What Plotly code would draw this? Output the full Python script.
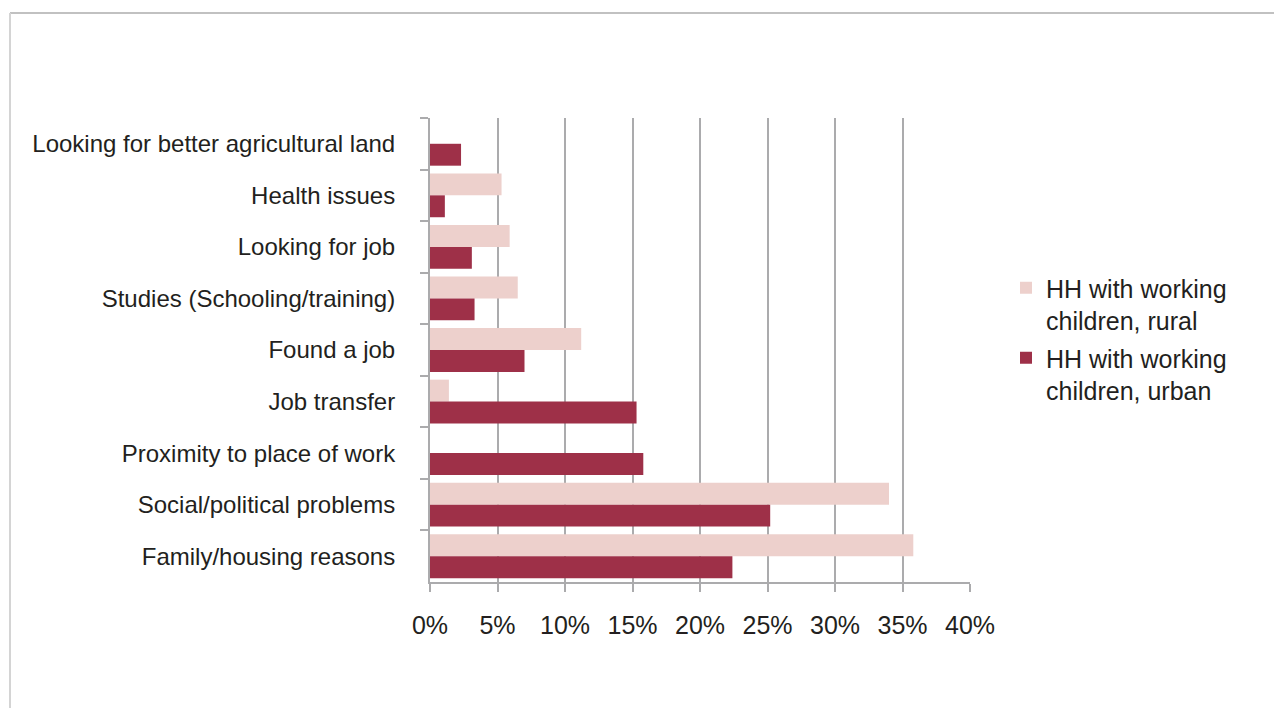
import plotly.graph_objects as go

categories = [
    "Looking for better agricultural land",
    "Health issues",
    "Looking for job",
    "Studies (Schooling/training)",
    "Found a job",
    "Job transfer",
    "Proximity to place of work",
    "Social/political problems",
    "Family/housing reasons",
]
rural = [0.0, 5.3, 5.9, 6.5, 11.2, 1.4, 0.0, 34.0, 35.8]
urban = [2.3, 1.1, 3.1, 3.3, 7.0, 15.3, 15.8, 25.2, 22.4]
series_names = ["HH with working<br>children, rural", "HH with working<br>children, urban"]
x_ticks = [0, 5, 10, 15, 20, 25, 30, 35, 40]
x_tick_labels = ["0%", "5%", "10%", "15%", "20%", "25%", "30%", "35%", "40%"]

W, H = 1282, 708
OFF = 8  # page body margin
L, R, T, B = 430, 970, 118, 582
TEXT = "#231F20"
GRID = "#ABABAD"

fig = go.Figure()
fig.add_trace(go.Bar(y=categories, x=rural, orientation="h", name=series_names[0],
                     legendgroup="r", marker=dict(color="#EDD0CC", line=dict(width=0))))
fig.add_trace(go.Bar(y=categories, x=urban, orientation="h", name=series_names[1],
                     legendgroup="u", marker=dict(color="#9E3048", line=dict(width=0))))

def px_x(p):
    return (p - L) / (R - L)

def px_y(p):
    return (B - p) / (B - T)

shapes = [
    dict(type="line", xref="paper", yref="paper", x0=px_x(10), x1=px_x(1300), y0=px_y(13), y1=px_y(13),
         line=dict(color="#ADADAD", width=1.5)),
    dict(type="line", xref="paper", yref="paper", x0=px_x(10), x1=px_x(10), y0=px_y(13), y1=px_y(720),
         line=dict(color="#D4D4D4", width=2)),
]

fig.update_layout(
    width=W, height=H,
    margin=dict(l=L - OFF, r=W - R + OFF, t=T - OFF, b=H - B + OFF, pad=0),
    paper_bgcolor="white", plot_bgcolor="white",
    barmode="group", bargap=0.15, bargroupgap=0,
    font=dict(family="Liberation Sans, Arial, sans-serif", size=24, color=TEXT),
    legend=dict(x=px_x(1006), y=px_y(265), xanchor="left", yanchor="top",
                font=dict(size=25, color=TEXT), itemsizing="constant", valign="top",
                tracegroupgap=2, bgcolor="rgba(0,0,0,0)"),
    shapes=shapes,
    xaxis=dict(range=[0, 40], tickmode="array", tickvals=x_ticks, ticktext=x_tick_labels,
               showgrid=True, gridcolor=GRID, gridwidth=2, zeroline=False,
               showline=True, linecolor=GRID, linewidth=2,
               ticks="outside", ticklen=8, tickwidth=2, tickcolor=GRID,
               ticklabelstandoff=12, tickfont=dict(size=25, color=TEXT), fixedrange=True),
    yaxis=dict(autorange="reversed", categoryorder="array", categoryarray=categories,
               showline=True, linecolor=GRID, linewidth=2, showgrid=False,
               ticks="outside", ticklen=8, tickwidth=2, tickcolor=GRID, tickson="boundaries",
               ticklabelstandoff=28, tickfont=dict(size=24, color=TEXT), fixedrange=True),
)

fig.write_html("out.html")
